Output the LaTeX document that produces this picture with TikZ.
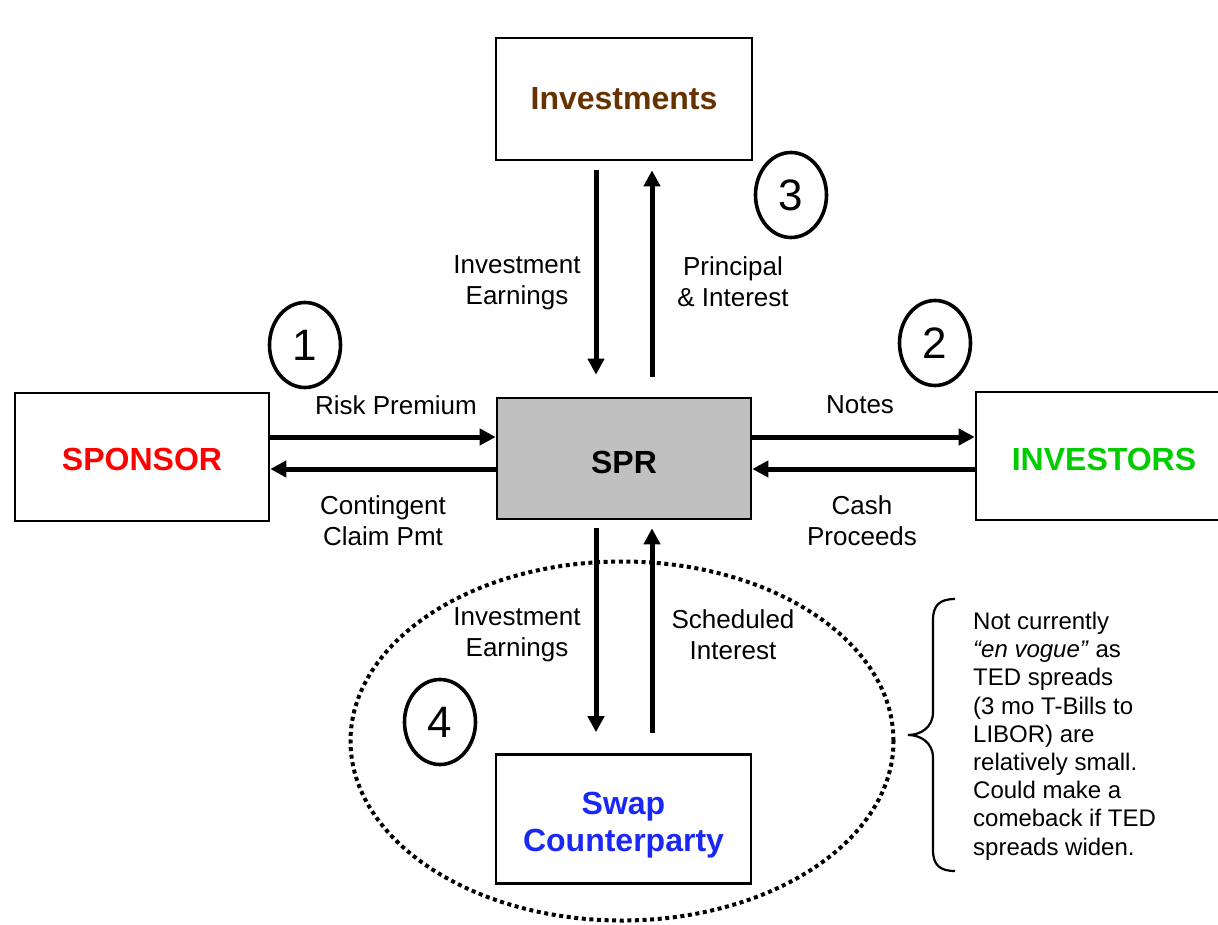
\documentclass[tikz,border=0pt]{standalone}
\usepackage{fontspec}
\setmainfont{Liberation Sans}
\usetikzlibrary{arrows.meta,shapes.geometric,calc}
\definecolor{brownT}{RGB}{102,51,0}
\definecolor{greenT}{RGB}{0,204,0}
\definecolor{blueT}{RGB}{26,40,245}
\definecolor{grayF}{RGB}{192,192,192}
\begin{document}
\begin{tikzpicture}[x=1pt,y=-1pt,
 box/.style={draw,line width=2.6pt,inner sep=0pt,font=\fontsize{32}{37}\selectfont\bfseries,align=center},
 title/.style={font=\fontsize{32}{37}\selectfont\bfseries,align=center,inner sep=0pt},
 lbl/.style={font=\fontsize{26}{31}\selectfont,align=center,inner sep=0pt},
 num/.style={draw,ellipse,line width=3.6pt,minimum width=71pt,minimum height=85pt,inner sep=0pt,font=\fontsize{44}{44}\selectfont},
 arr/.style={line width=5pt,-{Triangle[length=16pt,width=16pt]}},
 zonestyle/.style={draw,ellipse,line width=4pt,dash pattern=on 4pt off 3.6pt,inner sep=0pt}]
\useasboundingbox (0,0) rectangle (1218,925);
\fill[white] (0,0) rectangle (1218,925);

% dotted zone
\node[zonestyle,minimum width=543pt,minimum height=359pt] (zone) at (622,741) {};

% boxes
\node[box,minimum width=256pt,minimum height=122pt,text=brownT] (inv) at (624,99) {Investments};
\node[box,minimum width=254pt,minimum height=128pt] (sponsor) at (142,457) {};
\node[title,text=red] (sponsorT) at (142,459) {SPONSOR};
\node[box,fill=grayF,minimum width=254pt,minimum height=121pt] (spr) at (624,458.5) {};
\node[title] (sprT) at (624,462) {SPR};
\node[box,minimum width=256pt,minimum height=128pt] (investors) at (1104,456) {};
\node[title,text=greenT] (investorsT) at (1104,459) {INVESTORS};
\node[box,fill=white,minimum width=255pt,minimum height=129pt] (swap) at (623.5,819) {};
\node[title,text=blueT] (swapT) at (623.5,825) {Swap\\Counterparty};

% helper rows/columns
\coordinate (rowA) at (0,437);
\coordinate (rowB) at (0,469);
\coordinate (colL) at (596,0);
\coordinate (colR) at (652,0);

% arrows
\draw[arr,shorten <=9pt,shorten >=22pt] (inv.south -| colL) -- (spr.north -| colL);
\draw[arr,shorten <=20pt,shorten >=9pt] (spr.north -| colR) -- (inv.south -| colR);
\draw[arr] (sponsor.east |- rowA) -- (spr.west |- rowA);
\draw[arr] (spr.west |- rowB) -- (sponsor.east |- rowB);
\draw[arr] (spr.east |- rowA) -- (investors.west |- rowA);
\draw[arr] (investors.west |- rowB) -- (spr.east |- rowB);
\draw[arr,shorten <=8pt,shorten >=21pt] (spr.south -| colL) -- (swap.north -| colL);
\draw[arr,shorten <=20pt,shorten >=8pt] (swap.north -| colR) -- (spr.south -| colR);

% labels
\node[lbl] (l1) at (517,283) {Investment\\Earnings};
\node[lbl] (l2) at (733,282) {Principal\\\& Interest};
\node[lbl] (l3) at (396,405) {Risk Premium};
\node[lbl] (l4) at (383,521) {Contingent\\Claim Pmt};
\node[lbl] (l5) at (860,405) {Notes};
\node[lbl] (l6) at (862,521) {Cash\\Proceeds};
\node[lbl] (l7) at (517,635) {Investment\\Earnings};
\node[lbl] (l8) at (733,635) {Scheduled\\Interest};

% numbers
\node[num] (n1) at (305,345) {1};
\node[num] (n2) at (935,343) {2};
\node[num] (n3) at (791,195) {3};
\node[num] (n4) at (440,722) {4};

% brace
\draw[line width=2.2pt] (955,599) .. controls (940,599) and (933,605) .. (933,620) -- (933,712)
  .. controls (933,728) and (920,735) .. (908,735)
  .. controls (920,735) and (933,742) .. (933,758) -- (933,850)
  .. controls (933,865) and (940,871) .. (955,871);
\node[anchor=west,align=left,font=\fontsize{24}{28.2}\selectfont,inner sep=0pt] (note) at (973,736)
 {Not currently\\\textit{“en vogue”} as\\TED spreads\\(3 mo T-Bills to\\LIBOR) are\\relatively small.\\Could make a\\comeback if TED\\spreads widen.};
\end{tikzpicture}
\end{document}
